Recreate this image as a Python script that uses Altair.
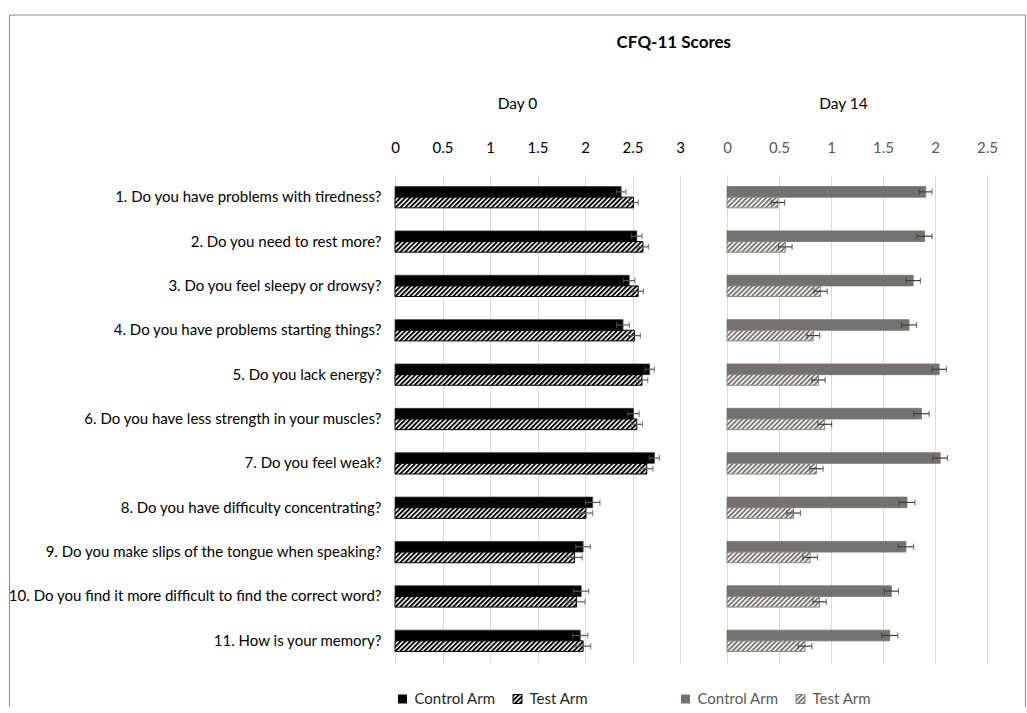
import base64
import altair as alt
import pandas as pd

# ---------------- data ----------------
chart_title = "CFQ-11 Scores"
day_titles = ["Day 0", "Day 14"]
arms = ["Control Arm", "Test Arm"]
questions = [
    "1. Do you have problems with tiredness?",
    "2. Do you need to rest more?",
    "3. Do you feel sleepy or drowsy?",
    "4. Do you have problems starting things?",
    "5. Do you lack energy?",
    "6. Do you have less strength in your muscles?",
    "7. Do you feel weak?",
    "8. Do you have difficulty concentrating?",
    "9. Do you make slips of the tongue when speaking?",
    "10. Do you find it more difficult to find the correct word?",
    "11. How is your memory?",
]

day0_control = [2.38, 2.545, 2.465, 2.40, 2.68, 2.51, 2.73, 2.08, 1.98, 1.96, 1.95]
day0_control_err = [0.05, 0.056, 0.06, 0.067, 0.05, 0.06, 0.053, 0.077, 0.077, 0.08, 0.08]
day0_test = [2.51, 2.61, 2.56, 2.52, 2.60, 2.545, 2.65, 2.01, 1.89, 1.91, 1.98]
day0_test_err = [0.05, 0.058, 0.055, 0.063, 0.06, 0.058, 0.065, 0.07, 0.08, 0.09, 0.08]

day14_control = [1.91, 1.90, 1.79, 1.75, 2.04, 1.87, 2.05, 1.73, 1.72, 1.58, 1.565]
day14_control_err = [0.061, 0.072, 0.07, 0.072, 0.07, 0.074, 0.07, 0.077, 0.074, 0.069, 0.077]
day14_test = [0.49, 0.56, 0.90, 0.83, 0.88, 0.94, 0.86, 0.64, 0.80, 0.89, 0.75]
day14_test_err = [0.064, 0.066, 0.064, 0.061, 0.064, 0.066, 0.064, 0.066, 0.07, 0.064, 0.066]

day0_ticks = [0, 0.5, 1, 1.5, 2, 2.5, 3]
day14_ticks = [0, 0.5, 1, 1.5, 2, 2.5]

# ---------------- helpers ----------------
FONT = "Lato"
H = 488


def make_df(ctrl, ctrl_err, test, test_err):
    rows = []
    for q, v, e in zip(questions, ctrl, ctrl_err):
        rows.append({"q": q, "arm": arms[0], "score": v, "lo": v - e, "hi": v + e})
    for q, v, e in zip(questions, test, test_err):
        rows.append({"q": q, "arm": arms[1], "score": v, "lo": v - e, "hi": v + e})
    return pd.DataFrame(rows)


def hatch_url(color):
    svg = (
        "<svg xmlns='http://www.w3.org/2000/svg' width='100%' height='100%'>"
        "<defs><pattern id='h' width='3.4' height='3.4' patternUnits='userSpaceOnUse' "
        "patternTransform='rotate(45)'>"
        "<rect width='3.4' height='3.4' fill='white'/>"
        f"<rect width='1.9' height='3.4' fill='{color}'/></pattern></defs>"
        "<rect width='100%' height='100%' fill='url(#h)'/></svg>"
    )
    return "data:image/svg+xml;base64," + base64.b64encode(svg.encode()).decode()


one = pd.DataFrame({"k": [0]})


def panel(df, xmax, ticks, width, ctrl_color, ctrl_stroke, hatch_color, outline_color,
          err_color, label_color, legend_color, show_y, title, title_dx, legend_x, frame_layers):
    y_axis = (
        alt.Axis(orient="left", title=None, ticks=False, domain=False, labelPadding=14,
                 labelFontSize=15, labelColor="black", labelFont=FONT, labelLimit=600, grid=False)
        if show_y else None
    )
    y = alt.Y("q:N", sort=questions, title=None, axis=y_axis,
              scale=alt.Scale(domain=questions, paddingInner=0.52, paddingOuter=0.26))
    yo = alt.YOffset("arm:N", sort=arms,
                     scale=alt.Scale(domain=arms, paddingInner=0, paddingOuter=0))
    xscale = alt.Scale(domain=[0, xmax], nice=False, zero=True)
    xaxis = alt.Axis(orient="top", values=ticks, format="~g", grid=True, gridColor="#d9d9d9",
                     gridWidth=1, ticks=False, domain=False, labelFontSize=15,
                     labelColor=label_color, labelFont=FONT, labelPadding=20, title=None,
                     labelFlush=False, labelOverlap=False)

    def X(field):
        return alt.X(f"{field}:Q", scale=xscale, axis=xaxis, title=None)

    base = alt.Chart(df)
    ctrl = base.transform_filter(alt.datum.arm == arms[0]).mark_bar(
        color=ctrl_color, stroke=ctrl_stroke, strokeWidth=0.8
    ).encode(x=X("score"), y=y, yOffset=yo)
    test_img = base.transform_filter(alt.datum.arm == arms[1]).mark_image(aspect=False).encode(
        x=X("score"), y=y, yOffset=yo, url=alt.value(hatch_url(hatch_color))
    )
    test_out = base.transform_filter(alt.datum.arm == arms[1]).mark_bar(
        filled=False, color=outline_color, strokeWidth=1
    ).encode(x=X("score"), y=y, yOffset=yo)
    err = base.mark_rule(color=err_color, strokeWidth=1.2).encode(
        x=X("lo"), x2="hi:Q", y=y, yOffset=yo
    )
    caps = base.transform_fold(["lo", "hi"], as_=["end", "xv"]).mark_tick(
        color=err_color, thickness=1.2, size=6, orient="vertical"
    ).encode(x=X("xv"), y=y, yOffset=yo)

    # legend (below the panel)
    lx0, lx1 = legend_x
    ly = 524
    leg = [
        alt.Chart(one).mark_square(size=81, color=ctrl_color, opacity=1).encode(
            x=alt.value(lx0), y=alt.value(ly)),
        alt.Chart(one).mark_text(align="left", baseline="middle", fontSize=15, font=FONT,
                                 color=legend_color).encode(
            x=alt.value(lx0 + 12), y=alt.value(ly), text=alt.value(arms[0])),
        alt.Chart(one).mark_image(aspect=False).encode(
            x=alt.value(lx1 - 4.5), x2=alt.value(lx1 + 4.5),
            y=alt.value(ly - 4.5), y2=alt.value(ly + 4.5),
            url=alt.value(hatch_url(hatch_color))),
        alt.Chart(one).mark_square(size=81, filled=False, color=outline_color,
                                   strokeWidth=1, opacity=1).encode(
            x=alt.value(lx1), y=alt.value(ly)),
        alt.Chart(one).mark_text(align="left", baseline="middle", fontSize=15, font=FONT,
                                 color=legend_color).encode(
            x=alt.value(lx1 + 12), y=alt.value(ly), text=alt.value(arms[1])),
    ]

    return alt.layer(ctrl, test_img, test_out, err, caps, *leg, *frame_layers).properties(
        width=width,
        height=H,
        title=alt.TitleParams(text=title, fontSize=15.5, font=FONT, fontWeight="normal",
                              anchor="middle", frame="group", baseline="middle",
                              offset=-105, dx=title_dx, color="black"),
    )


FRAME = "#8c8c8c"
left_frame = [
    alt.Chart(one).mark_rule(color=FRAME, strokeWidth=1).encode(
        x=alt.value(-385.5), y=alt.value(-160), y2=alt.value(532)),
    alt.Chart(one).mark_rule(color=FRAME, strokeWidth=1).encode(
        x=alt.value(-385.5), x2=alt.value(630.5), y=alt.value(-160)),
]
right_frame = [
    alt.Chart(one).mark_rule(color=FRAME, strokeWidth=1).encode(
        x=alt.value(298.5), y=alt.value(-160), y2=alt.value(532)),
]

left = panel(make_df(day0_control, day0_control_err, day0_test, day0_test_err),
             3, day0_ticks, 285, "#000000", "#3a3a3a", "#000000", "#000000", "#595959",
             "#000000", "#262626", True, day_titles[0], -20, (7.5, 122.5), left_frame)
right = panel(make_df(day14_control, day14_control_err, day14_test, day14_test_err),
              2.5, day14_ticks, 260, "#767171", "#767171", "#7a7575", "#8a8585", "#3f3f3f",
              "#595959", "#595959", False, day_titles[1], -13.5, (-41.5, 73.5), right_frame)

chart = alt.hconcat(
    left, right, spacing=47, bounds="flush",
    title=alt.TitleParams(text=chart_title, fontSize=17, font=FONT, fontWeight="bold",
                          anchor="middle", frame="bounds", baseline="middle",
                          offset=-45, dx=157, color="black"),
).properties(
    padding={"left": 7, "top": 14, "right": 0, "bottom": 0}
).configure_view(stroke=None)

chart.save("out.html", embed_options={"renderer": "svg", "actions": False})
